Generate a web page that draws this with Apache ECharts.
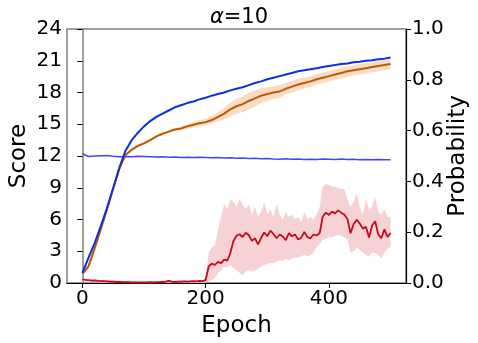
<!DOCTYPE html>
<html>
<head>
<meta charset="utf-8">
<script src="https://cdn.jsdelivr.net/npm/echarts@6/dist/echarts.min.js"></script>
<style>
  html, body { margin: 0; padding: 0; background: #fff; }
  #chart { width: 478px; height: 343px; }
</style>
</head>
<body>
<div id="chart"></div>
<script>
// epochs sampled every 10 (score curves, flat probability line)
var epochs10 = [0, 10, 20, 30, 40, 50, 60, 70, 80, 90, 100, 110, 120, 130, 140, 150, 160, 170, 180, 190,
    200, 210, 220, 230, 240, 250, 260, 270, 280, 290, 300, 310, 320, 330, 340, 350, 360, 370, 380, 390,
    400, 410, 420, 430, 440, 450, 460, 470, 480, 490, 500];
// epochs sampled every 5 (noisy probability curve)
var epochs5 = [0, 5, 10, 15, 20, 25, 30, 35, 40, 45, 50, 55, 60, 65, 70, 75, 80, 85, 90, 95,
    100, 105, 110, 115, 120, 125, 130, 135, 140, 145, 150, 155, 160, 165, 170, 175, 180, 185, 190, 195,
    200, 205, 210, 215, 220, 225, 230, 235, 240, 245, 250, 255, 260, 265, 270, 275, 280, 285, 290, 295,
    300, 305, 310, 315, 320, 325, 330, 335, 340, 345, 350, 355, 360, 365, 370, 375, 380, 385, 390, 395,
    400, 405, 410, 415, 420, 425, 430, 435, 440, 445, 450, 455, 460, 465, 470, 475, 480, 485, 490, 495, 500];

var scoreBlue = [0.95, 2.4, 3.8, 5.4, 7.1, 9.0, 10.9, 12.5, 13.5, 14.2,
    14.8, 15.3, 15.7, 16.0, 16.3, 16.6, 16.8, 17.0, 17.15, 17.35,
    17.5, 17.7, 17.85, 18.0, 18.2, 18.35, 18.5, 18.7, 18.9, 19.05,
    19.25, 19.4, 19.55, 19.7, 19.85, 20.0, 20.1, 20.2, 20.3, 20.4,
    20.5, 20.6, 20.7, 20.75, 20.85, 20.9, 21.0, 21.05, 21.15, 21.2, 21.3];

var scoreOrange = [0.85, 1.6, 3.3, 5.1, 7.0, 8.9, 10.8, 12.1, 12.6, 12.95,
    13.2, 13.5, 13.85, 14.1, 14.3, 14.5, 14.6, 14.8, 14.95, 15.1,
    15.2, 15.4, 15.7, 16.0, 16.4, 16.7, 16.9, 17.2, 17.45, 17.7,
    17.85, 18.0, 18.1, 18.35, 18.55, 18.75, 18.9, 19.05, 19.25, 19.4,
    19.55, 19.7, 19.85, 20.0, 20.1, 20.2, 20.3, 20.4, 20.5, 20.6, 20.7];

// half width of the orange shaded band
var orangeSpread = [0.15, 0.25, 0.3, 0.3, 0.3, 0.25, 0.2, 0.15, 0.12, 0.12,
    0.12, 0.12, 0.12, 0.12, 0.12, 0.12, 0.15, 0.2, 0.25, 0.3,
    0.3, 0.35, 0.45, 0.55, 0.65, 0.7, 0.75, 0.8, 0.75, 0.7,
    0.65, 0.6, 0.6, 0.55, 0.55, 0.55, 0.5, 0.5, 0.5, 0.5,
    0.5, 0.5, 0.5, 0.5, 0.5, 0.5, 0.5, 0.5, 0.5, 0.5, 0.5];

var probFlat = [0.509, 0.498, 0.500, 0.501, 0.502, 0.499, 0.497, 0.498, 0.497, 0.499,
    0.498, 0.497, 0.496, 0.497, 0.495, 0.496, 0.494, 0.495, 0.494, 0.495,
    0.494, 0.493, 0.494, 0.492, 0.493, 0.491, 0.492, 0.490, 0.491, 0.489,
    0.490, 0.488, 0.487, 0.489, 0.487, 0.488, 0.486, 0.487, 0.486, 0.488,
    0.487, 0.486, 0.488, 0.486, 0.487, 0.485, 0.486, 0.485, 0.486, 0.485, 0.485];

var probRed = [0.014, 0.012, 0.011, 0.009, 0.010, 0.008, 0.007, 0.007, 0.006, 0.005,
    0.005, 0.004, 0.004, 0.003, 0.003, 0.003, 0.002, 0.002, 0.002, 0.002,
    0.002, 0.002, 0.003, 0.002, 0.003, 0.003, 0.004, 0.005, 0.008, 0.005,
    0.004, 0.005, 0.005, 0.006, 0.005, 0.006, 0.007, 0.006, 0.008, 0.007,
    0.012, 0.066, 0.076, 0.071, 0.083, 0.078, 0.092, 0.088, 0.118, 0.165,
    0.186, 0.192, 0.181, 0.198, 0.188, 0.166, 0.176, 0.152, 0.178, 0.199,
    0.184, 0.206, 0.193, 0.176, 0.191, 0.183, 0.169, 0.196, 0.184, 0.191,
    0.171, 0.178, 0.201, 0.181, 0.176, 0.191, 0.187, 0.197, 0.262, 0.277,
    0.268, 0.281, 0.274, 0.286, 0.277, 0.269, 0.252, 0.196, 0.231, 0.249,
    0.234, 0.214, 0.221, 0.179, 0.226, 0.243, 0.191, 0.176, 0.211, 0.181,
    0.197];

var redUpper = [0.02, 0.018, 0.016, 0.014, 0.015, 0.013, 0.012, 0.012, 0.011, 0.010,
    0.010, 0.009, 0.009, 0.008, 0.008, 0.008, 0.007, 0.007, 0.007, 0.007,
    0.007, 0.007, 0.008, 0.007, 0.008, 0.008, 0.009, 0.010, 0.014, 0.010,
    0.009, 0.010, 0.010, 0.011, 0.010, 0.011, 0.012, 0.011, 0.013, 0.012,
    0.02, 0.12, 0.14, 0.15, 0.21, 0.26, 0.31, 0.29, 0.33, 0.32,
    0.30, 0.33, 0.31, 0.29, 0.31, 0.27, 0.30, 0.26, 0.28, 0.32,
    0.27, 0.29, 0.26, 0.31, 0.27, 0.25, 0.28, 0.26, 0.27, 0.25,
    0.26, 0.24, 0.28, 0.25, 0.26, 0.25, 0.27, 0.30, 0.38, 0.39,
    0.385, 0.38, 0.38, 0.375, 0.37, 0.37, 0.33, 0.30, 0.32, 0.35,
    0.30, 0.27, 0.33, 0.29, 0.30, 0.34, 0.28, 0.27, 0.29, 0.26,
    0.26];

var redLower = [0.008, 0.006, 0.006, 0.004, 0.005, 0.003, 0.002, 0.002, 0.001, 0,
    0, 0, 0, 0, 0, 0, 0, 0, 0, 0,
    0, 0, 0, 0, 0, 0, 0, 0, 0.002, 0,
    0, 0, 0, 0, 0, 0, 0.001, 0, 0.002, 0.001,
    0.004, 0.005, 0.012, 0.02, 0.04, 0.05, 0.065, 0.06, 0.07, 0.06,
    0.05, 0.04, 0.03, 0.045, 0.05, 0.045, 0.05, 0.055, 0.065, 0.07,
    0.075, 0.08, 0.078, 0.085, 0.09, 0.088, 0.095, 0.09, 0.095, 0.1,
    0.1, 0.105, 0.11, 0.105, 0.11, 0.12, 0.14, 0.155, 0.17, 0.175,
    0.18, 0.18, 0.185, 0.19, 0.185, 0.18, 0.17, 0.12, 0.125, 0.14,
    0.13, 0.12, 0.11, 0.105, 0.12, 0.118, 0.11, 0.095, 0.12, 0.135,
    0.144];

var xTicks = [0, 200, 400];

function pairs(xs, ys) {
    return xs.map(function (x, i) { return [x, ys[i]]; });
}

// rows of [epoch, low, high] for the shaded bands
var orangeRows = epochs10.map(function (x, i) {
    return [x, scoreOrange[i] - orangeSpread[i], scoreOrange[i] + orangeSpread[i]];
});
var redRows = epochs5.map(function (x, i) { return [x, redLower[i], redUpper[i]]; });

// one polygon per band, drawn through the axis scales
function bandSeries(rows, yIndex, color) {
    return {
        type: 'custom',
        yAxisIndex: yIndex,
        data: rows,
        encode: { x: 0, y: [1, 2] },
        clip: true,
        silent: true,
        renderItem: function (params, api) {
            if (params.dataIndex !== 0) return null;
            var top = [], bottom = [];
            for (var i = 0; i < rows.length; i++) {
                top.push(api.coord([rows[i][0], rows[i][2]]));
                bottom.push(api.coord([rows[i][0], rows[i][1]]));
            }
            return {
                type: 'polygon',
                shape: { points: top.concat(bottom.reverse()) },
                style: { fill: color },
                silent: true
            };
        }
    };
}

var font = 'DejaVu Sans';
var chart = echarts.init(document.getElementById('chart'));

var option = {
    animation: false,
    backgroundColor: '#fff',
    title: {
        text: '{a|α}=10',
        left: 'center',
        top: 2,
        textStyle: {
            fontFamily: font, fontSize: 21, fontWeight: 'normal', color: '#000',
            rich: { a: { fontFamily: font, fontSize: 21, fontStyle: 'italic', color: '#000' } }
        }
    },
    grid: {
        left: 67, right: 72, top: 29, bottom: 60,
        containLabel: false,
        outerBoundsMode: 'none',
        show: true, borderColor: '#808080', borderWidth: 1.5, backgroundColor: 'transparent'
    },
    xAxis: {
        type: 'value',
        min: -25, max: 525,
        name: 'Epoch',
        nameLocation: 'middle',
        nameGap: 32,
        nameMoveOverlap: false,
        nameTextStyle: { fontFamily: font, fontSize: 23, color: '#000' },
        splitLine: { show: false },
        axisLine: { lineStyle: { color: '#000', width: 1.2 } },
        axisTick: { customValues: xTicks, length: 5, lineStyle: { color: '#000' } },
        axisLabel: { customValues: xTicks, fontFamily: font, fontSize: 20, color: '#000', margin: 6 }
    },
    yAxis: [
        {
            type: 'value',
            min: 0, max: 24, interval: 3,
            name: 'Score',
            nameLocation: 'middle',
            nameGap: 36,
            nameMoveOverlap: false,
            nameTextStyle: { fontFamily: font, fontSize: 23, color: '#000' },
            splitLine: { show: false },
            axisLine: { show: true, lineStyle: { color: '#808080', width: 1.5 } },
            axisTick: { show: true, length: 5, lineStyle: { color: '#000' } },
            axisLabel: { fontFamily: font, fontSize: 20, color: '#000', margin: 5 }
        },
        {
            type: 'value',
            min: 0, max: 1, interval: 0.2,
            position: 'right',
            name: 'Probability',
            nameLocation: 'middle',
            nameGap: 41,
            nameMoveOverlap: false,
            nameTextStyle: { fontFamily: font, fontSize: 23, color: '#000' },
            splitLine: { show: false },
            axisLine: { show: true, lineStyle: { color: '#000', width: 1.2 } },
            axisTick: { show: true, length: 5, lineStyle: { color: '#000' } },
            axisLabel: {
                fontFamily: font, fontSize: 20, color: '#000', margin: 6,
                formatter: function (v) { return v.toFixed(1); }
            }
        }
    ],
    series: [
        bandSeries(orangeRows, 0, '#f8dcc5'),
        bandSeries(redRows, 1, '#f6d2d5'),
        {
            type: 'line', yAxisIndex: 1, symbol: 'none',
            data: pairs(epochs10, probFlat),
            lineStyle: { color: '#4646ee', width: 1.6 }
        },
        {
            type: 'line', yAxisIndex: 1, symbol: 'none',
            data: pairs(epochs5, probRed),
            lineStyle: { color: '#c80a1e', width: 1.8 }
        },
        {
            type: 'line', yAxisIndex: 0, symbol: 'none',
            data: pairs(epochs10, scoreOrange),
            lineStyle: { color: '#c05a00', width: 2 }
        },
        {
            type: 'line', yAxisIndex: 0, symbol: 'none',
            data: pairs(epochs10, scoreBlue),
            lineStyle: { color: '#0a30e6', width: 2 }
        }
    ]
};

chart.setOption(option);
</script>
</body>
</html>
